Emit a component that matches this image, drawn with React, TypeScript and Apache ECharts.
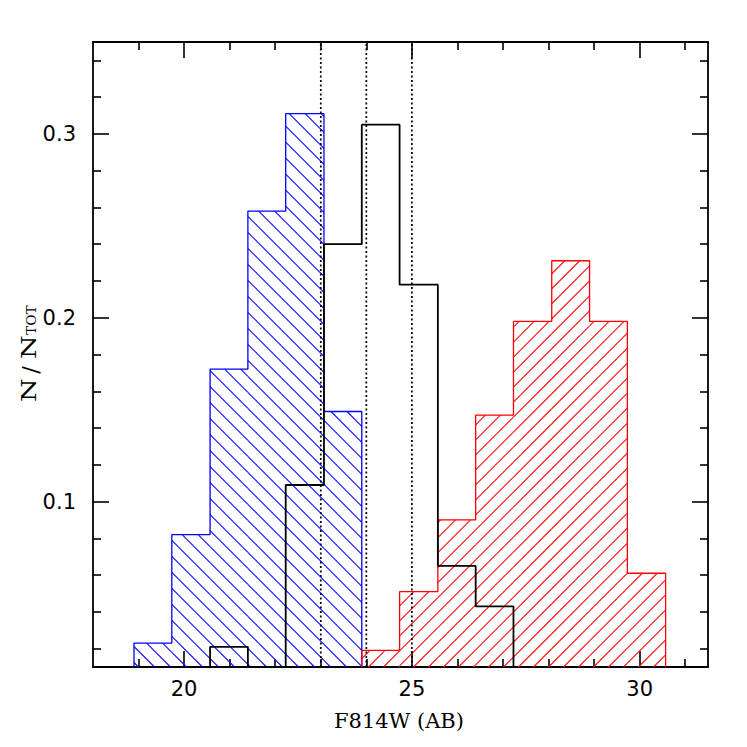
import React, { useEffect, useRef } from "react";
import * as echarts from "echarts";

// ---- data ----
const binEdges = [18.9, 19.73, 20.57, 21.4, 22.23, 23.07, 23.9, 24.73, 25.57, 26.4, 27.23, 28.07, 28.9, 29.73, 30.57];
const blueFrac = [0.023, 0.082, 0.172, 0.258, 0.311, 0.149, 0, 0, 0, 0, 0, 0, 0, 0];
const blackFrac = [0, 0, 0.021, 0, 0.109, 0.240, 0.305, 0.218, 0.065, 0.043, 0, 0, 0, 0];
const redFrac = [0, 0, 0, 0, 0, 0, 0.019, 0.051, 0.090, 0.147, 0.198, 0.231, 0.198, 0.061];
const cutLines = [23, 24, 25];
const xMajor = [20, 25, 30];
const xMinor = [19, 21, 22, 23, 24, 26, 27, 28, 29, 31];
const yMajor = [0.1, 0.2, 0.3];
const yMinor = [0.02, 0.04, 0.06, 0.08, 0.12, 0.14, 0.16, 0.18, 0.22, 0.24, 0.26, 0.28, 0.32, 0.34];

const X_MIN = 18;
const X_MAX = 31.5;
const Y_MIN = 0.01;
const Y_MAX = 0.35;

function hatchData(fr: number[]) {
  const out: number[][] = [];
  fr.forEach((v, i) => {
    if (v > 0) out.push([binEdges[i], binEdges[i + 1], v]);
  });
  return out;
}

function outlineData(fr: number[]) {
  let first = -1;
  let last = -1;
  fr.forEach((v, i) => {
    if (v > 0) {
      if (first < 0) first = i;
      last = i;
    }
  });
  const pts: number[][] = [];
  pts.push([binEdges[first], Y_MIN]);
  for (let i = first; i <= last; i++) {
    const h = Math.max(fr[i], Y_MIN);
    pts.push([binEdges[i], h]);
    pts.push([binEdges[i + 1], h]);
  }
  pts.push([binEdges[last + 1], Y_MIN]);
  return pts;
}

function makeHatch(dir: "back" | "fwd", color: string, spacing: number) {
  return (params: any, api: any) => {
    const x0 = api.value(0);
    const x1 = api.value(1);
    const h = api.value(2);
    const tl = api.coord([x0, h]);
    const br = api.coord([x1, Y_MIN]);
    const L = tl[0], T = tl[1], R = br[0], B = br[1];
    let d = "";
    const f = (n: number) => n.toFixed(2);
    if (dir === "back") {
      // y = x + c
      const cmin = T - R, cmax = B - L;
      for (let k = Math.ceil(cmin / spacing); k <= Math.floor(cmax / spacing); k++) {
        const c = k * spacing + 0.5;
        const xa = Math.max(L, T - c);
        const xb = Math.min(R, B - c);
        if (xb - xa > 0.3) d += `M${f(xa)} ${f(xa + c)}L${f(xb)} ${f(xb + c)}`;
      }
    } else {
      // x + y = c
      const cmin = L + T, cmax = R + B;
      for (let k = Math.ceil(cmin / spacing); k <= Math.floor(cmax / spacing); k++) {
        const c = k * spacing + 0.5;
        const xa = Math.max(L, c - B);
        const xb = Math.min(R, c - T);
        if (xb - xa > 0.3) d += `M${f(xa)} ${f(c - xa)}L${f(xb)} ${f(c - xb)}`;
      }
    }
    return {
      type: "path",
      shape: { pathData: d || "M0 0" },
      style: { stroke: color, fill: "none", lineWidth: 1.1, opacity: 1 },
      silent: true,
    };
  };
}

const axisLineStyle = { color: "#000", width: 1.8 };
const tickStyle = { color: "#000", width: 1.6 };
const labelFont = { fontFamily: "DejaVu Sans", fontSize: 21, color: "#000" };

function xAx(position: string, vals: number[], len: number, labels: boolean, line: boolean) {
  return {
    type: "value",
    position,
    min: X_MIN,
    max: X_MAX,
    axisLine: { show: line, onZero: false, lineStyle: axisLineStyle },
    axisTick: { show: true, inside: true, length: len, customValues: vals, lineStyle: tickStyle },
    axisLabel: labels ? { show: true, customValues: vals, margin: 11, ...labelFont } : { show: false },
    splitLine: { show: false },
  };
}
function yAx(position: string, vals: number[], len: number, labels: boolean, line: boolean) {
  return {
    type: "value",
    position,
    min: Y_MIN,
    max: Y_MAX,
    axisLine: { show: line, onZero: false, lineStyle: axisLineStyle },
    axisTick: { show: true, inside: true, length: len, customValues: vals, lineStyle: tickStyle },
    axisLabel: labels
      ? { show: true, customValues: vals, margin: 17, formatter: (v: number) => String(Math.round(v * 10) / 10), ...labelFont }
      : { show: false },
    splitLine: { show: false },
  };
}

export default function App() {
  const ref = useRef<HTMLDivElement>(null);
  useEffect(() => {
    if (!ref.current) return;
    const chart = echarts.init(ref.current, null, { renderer: "svg" });
    const series: any[] = [
      {
        type: "custom",
        renderItem: makeHatch("fwd", "#ff1010", 15),
        data: hatchData(redFrac),
        encode: { x: [0, 1], y: 2 },
        itemStyle: { color: "#ff1010" },
        z: 2,
        silent: true,
      },
      {
        type: "custom",
        renderItem: makeHatch("back", "#1010ff", 16),
        data: hatchData(blueFrac),
        encode: { x: [0, 1], y: 2 },
        itemStyle: { color: "#1010ff" },
        z: 1,
        silent: true,
      },
      {
        type: "line",
        data: outlineData(blueFrac),
        symbol: "none",
        lineStyle: { color: "#0000ff", width: 1.3 },
        z: 3,
        silent: true,
      },
      {
        type: "line",
        data: outlineData(redFrac),
        symbol: "none",
        lineStyle: { color: "#ff0000", width: 1.3 },
        z: 3,
        silent: true,
      },
      {
        type: "line",
        data: outlineData(blackFrac),
        symbol: "none",
        lineStyle: { color: "#000", width: 1.8 },
        z: 4,
        silent: true,
      },
      ...cutLines.map((c) => ({
        type: "line",
        data: [
          [c, Y_MIN],
          [c, Y_MAX],
        ],
        symbol: "none",
        lineStyle: { color: "#000", width: 1.7, type: [2, 2.5] },
        z: 5,
        silent: true,
      })),
    ];
    chart.setOption({
      animation: false,
      backgroundColor: "#fff",
      grid: { left: 93, right: 39, top: 42, bottom: 80, containLabel: false },
      xAxis: [
        xAx("bottom", xMajor, 16, true, true),
        xAx("bottom", xMinor, 8, false, false),
        xAx("top", xMajor, 16, false, true),
        xAx("top", xMinor, 8, false, false),
      ],
      yAxis: [
        yAx("left", yMajor, 16, true, true),
        yAx("left", yMinor, 8, false, false),
        yAx("right", yMajor, 16, false, true),
        yAx("right", yMinor, 8, false, false),
      ],
      series,
      graphic: [
        {
          type: "text",
          x: 399,
          y: 721,
          style: {
            text: "F814W (AB)",
            align: "center",
            verticalAlign: "middle",
            fontFamily: "DejaVu Serif",
            fontSize: 21,
            fill: "#000",
          },
        },
        {
          type: "group",
          x: 19,
          y: 402,
          rotation: Math.PI / 2,
          children: [
            {
              type: "text",
              x: 0,
              y: 0,
              scaleX: 1.35,
              style: { text: "N", fontFamily: "DejaVu Serif", fontSize: 20, fill: "#000", align: "left", verticalAlign: "alphabetic" },
            },
            {
              type: "text",
              x: 32,
              y: 0,
              style: { text: "/", fontFamily: "DejaVu Serif", fontSize: 22, fill: "#000", align: "center", verticalAlign: "alphabetic" },
            },
            {
              type: "text",
              x: 43,
              y: 0,
              scaleX: 1.35,
              style: { text: "N", fontFamily: "DejaVu Serif", fontSize: 20, fill: "#000", align: "left", verticalAlign: "alphabetic" },
            },
            {
              type: "text",
              x: 67,
              y: 7,
              scaleX: 1.15,
              style: { text: "TOT", fontFamily: "DejaVu Serif", fontSize: 12, fill: "#000", align: "left", verticalAlign: "alphabetic" },
            },
          ],
        },
      ],
    });
    return () => chart.dispose();
  }, []);
  return (
    <div
      ref={ref}
      style={{ position: "fixed", left: 0, top: 0, width: 747, height: 747, background: "#fff" }}
    />
  );
}
